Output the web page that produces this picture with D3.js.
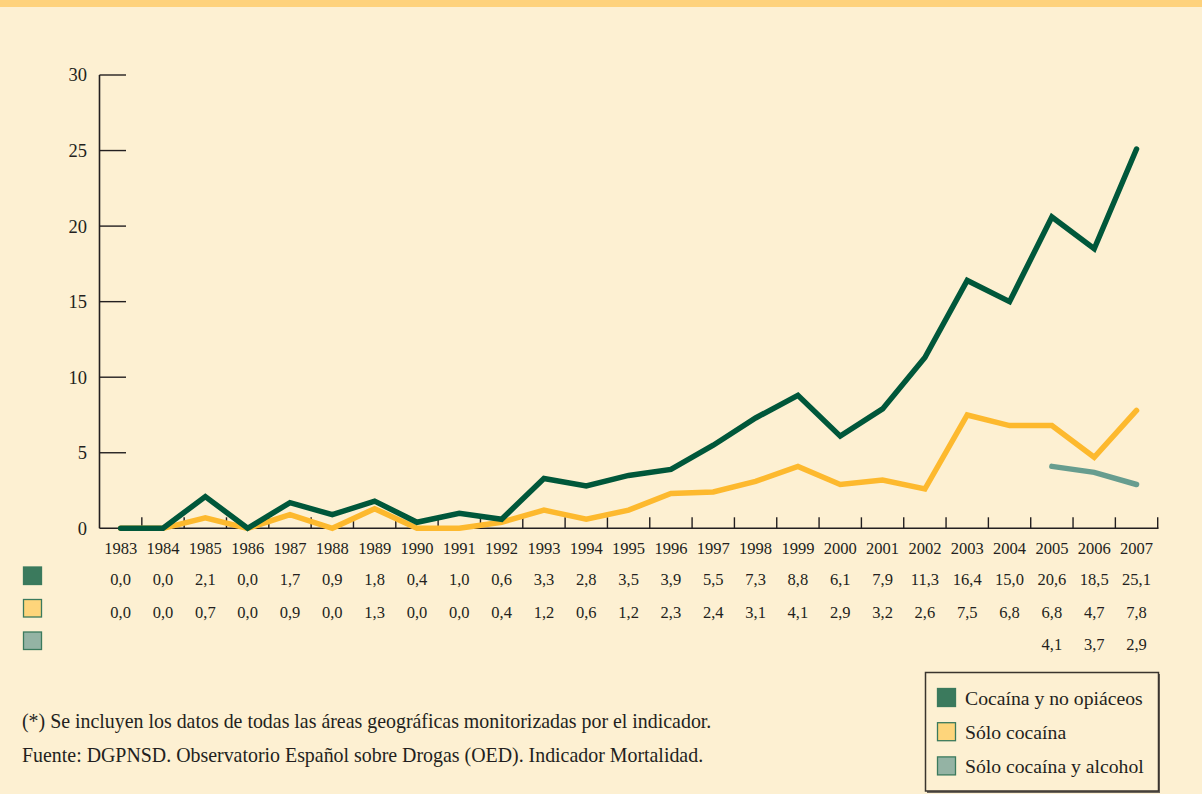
<!DOCTYPE html>
<html>
<head>
<meta charset="utf-8">
<script src="https://cdn.jsdelivr.net/npm/d3@7"></script>
<style>
  html, body { margin: 0; padding: 0; background: #fdf0d2; }
  svg { display: block; }
  text { font-family: "Liberation Serif", "Times New Roman", serif; fill: #231f20; }
</style>
</head>
<body>
<svg id="chart" width="1202" height="794"></svg>
<script>
const years = ["1983","1984","1985","1986","1987","1988","1989","1990","1991","1992","1993","1994","1995","1996","1997","1998","1999","2000","2001","2002","2003","2004","2005","2006","2007"];
const cocainaNoOpiaceos = [0.0,0.0,2.1,0.0,1.7,0.9,1.8,0.4,1.0,0.6,3.3,2.8,3.5,3.9,5.5,7.3,8.8,6.1,7.9,11.3,16.4,15.0,20.6,18.5,25.1];
const soloCocaina = [0.0,0.0,0.7,0.0,0.9,0.0,1.3,0.0,0.0,0.4,1.2,0.6,1.2,2.3,2.4,3.1,4.1,2.9,3.2,2.6,7.5,6.8,6.8,4.7,7.8];
const soloCocainaAlcohol = [null,null,null,null,null,null,null,null,null,null,null,null,null,null,null,null,null,null,null,null,null,null,4.1,3.7,2.9];
const yTicks = [0,5,10,15,20,25,30];
const seriesNames = ["Cocaína y no opiáceos","Sólo cocaína","Sólo cocaína y alcohol"];
const footnotes = [
  "(*) Se incluyen los datos de todas las áreas geográficas monitorizadas por el indicador.",
  "Fuente: DGPNSD. Observatorio Español sobre Drogas (OED). Indicador Mortalidad."
];

const lineColors = ["#00573a", "#fdb92e", "#679d8f"];
const swatchFill = ["#3b7a5d", "#fed57b", "#94b3a4"];
const swatchStroke = "#3b7a5d";

const svg = d3.select("#chart");
svg.append("rect").attr("x",0).attr("y",0).attr("width",1202).attr("height",794).attr("fill","#fdf0d2");
svg.append("rect").attr("x",0).attr("y",0).attr("width",1202).attr("height",7).attr("fill","#fed27c");

const x = d3.scaleBand().domain(years).range([99.5, 1157.7]).padding(0);
const y = d3.scaleLinear().domain([0, 30]).range([528.3, 75]);
const xc = d => x(d) + x.bandwidth() / 2;

// Y axis
const yAxis = svg.append("g");
yAxis.append("line").attr("x1",99.5).attr("x2",99.5).attr("y1",y(30)).attr("y2",y(0))
  .attr("stroke","#231f20").attr("stroke-width",1.6);
yAxis.selectAll("line.t").data(yTicks.filter(t => t > 0)).join("line")
  .attr("x1",99.5).attr("x2",126).attr("y1",d=>y(d)).attr("y2",d=>y(d))
  .attr("stroke","#231f20").attr("stroke-width",1.4);
yAxis.selectAll("text").data(yTicks).join("text")
  .attr("x",87).attr("y",d=>y(d)).attr("dy","0.35em").attr("text-anchor","end")
  .attr("font-size","18.5px").text(d=>d);

// X axis
const xAxis = svg.append("g");
xAxis.append("line").attr("x1",99.5).attr("x2",1158.5).attr("y1",y(0)).attr("y2",y(0))
  .attr("stroke","#231f20").attr("stroke-width",1.6);
xAxis.selectAll("line.t").data(years).join("line")
  .attr("x1",d=> x(d) + x.bandwidth()).attr("x2",d=> x(d) + x.bandwidth())
  .attr("y1",y(0)).attr("y2",y(0)-11)
  .attr("stroke","#231f20").attr("stroke-width",1.4);
xAxis.selectAll("text").data(years).join("text")
  .attr("x",d=>xc(d)).attr("y",553.5).attr("text-anchor","middle")
  .attr("font-size","16.5px").text(d=>d);

// Lines
const line = d3.line().defined(d => d.v !== null).x(d => xc(d.year)).y(d => y(d.v));
const series = [
  {vals: soloCocaina, color: lineColors[1]},
  {vals: cocainaNoOpiaceos, color: lineColors[0]},
  {vals: soloCocainaAlcohol, color: lineColors[2]}
];
series.forEach(s => {
  const pts = years.map((yr,i) => ({year: yr, v: s.vals[i]}));
  svg.append("path").datum(pts).attr("d", line).attr("fill","none")
    .attr("stroke", s.color).attr("stroke-width", 5.5)
    .attr("stroke-linejoin","miter").attr("stroke-linecap","round");
});

// Data table
const fmt = v => v.toFixed(1).replace(".", ",");
const tableRows = [cocainaNoOpiaceos, soloCocaina, soloCocainaAlcohol];
const rowY = [585, 617.5, 650];
const swY = [567, 599.5, 632];
tableRows.forEach((vals, r) => {
  svg.append("rect").attr("x",23.5).attr("y",swY[r]).attr("width",18).attr("height",17.5)
    .attr("fill",swatchFill[r]).attr("stroke",swatchStroke).attr("stroke-width",1.3);
  svg.append("g").selectAll("text").data(years.map((yr,i)=>({yr, v: vals[i]})).filter(d=>d.v!==null))
    .join("text").attr("x",d=>xc(d.yr)).attr("y",rowY[r]).attr("text-anchor","middle")
    .attr("font-size","16.5px").text(d=>fmt(d.v));
});

// Footnotes
svg.append("text").attr("x",22).attr("y",727.5).attr("font-size","19.9px").text(footnotes[0]);
svg.append("text").attr("x",22).attr("y",761.5).attr("font-size","19.9px").text(footnotes[1]);

// Legend
const lg = svg.append("g");
lg.append("rect").attr("x",927).attr("y",674).attr("width",233).attr("height",119)
  .attr("fill","#6b655c");
lg.append("rect").attr("x",925.5).attr("y",672.5).attr("width",233).attr("height",118.5)
  .attr("fill","#fdf0d2").attr("stroke","#3a342e").attr("stroke-width",1.5);
seriesNames.forEach((n, i) => {
  const yy = 688.5 + i * 34.2;
  lg.append("rect").attr("x",937.5).attr("y",yy).attr("width",18).attr("height",18)
    .attr("fill",swatchFill[i]).attr("stroke",swatchStroke).attr("stroke-width",1.3);
  lg.append("text").attr("x",965).attr("y",yy+16).attr("font-size","19.7px").text(n);
});
</script>
</body>
</html>
